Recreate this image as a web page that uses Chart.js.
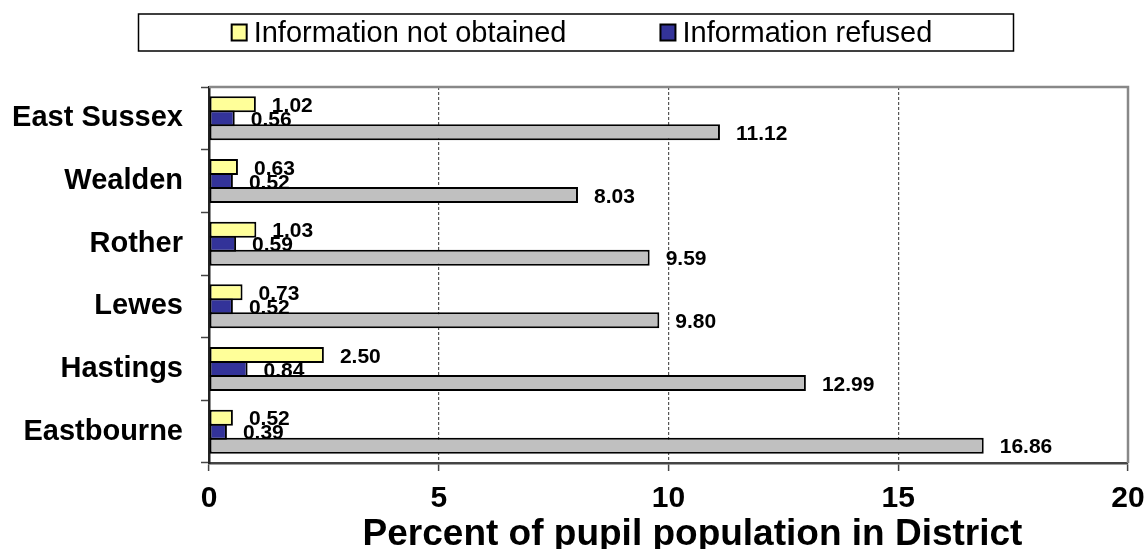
<!DOCTYPE html>
<html><head><meta charset="utf-8">
<script src="https://cdn.jsdelivr.net/npm/chart.js@4.4.1/dist/chart.umd.min.js"></script>
<style>html,body{margin:0;padding:0;background:#fff}#wrap{width:1146px;height:549px}</style>
</head><body><div id="wrap"><canvas id="c" width="1146" height="549"></canvas></div>
<script>
const categories = ['East Sussex','Wealden','Rother','Lewes','Hastings','Eastbourne'];
const notObtained = [1.02,0.63,1.03,0.73,2.50,0.52];
const refused = [0.56,0.52,0.59,0.52,0.84,0.39];
const series3 = [11.12,8.03,9.59,9.80,12.99,16.86];
const xTicks = [0,5,10,15,20];
const legendLabels = ['Information not obtained','Information refused'];
const axisTitle = 'Percent of pupil population in District';

const FONT = "'Liberation Sans', Arial, sans-serif";
const colors = ['#FFFF99','#333399','#C0C0C0'];

const valueLabels = {
  id: 'valueLabels',
  beforeDatasetsDraw(chart) {
    const ctx = chart.ctx;
    ctx.save();
    ctx.font = 'bold 21px ' + FONT;
    ctx.fillStyle = '#000';
    ctx.textAlign = 'left';
    ctx.textBaseline = 'middle';
    chart.data.datasets.forEach((ds, i) => {
      const meta = chart.getDatasetMeta(i);
      meta.data.forEach((bar, j) => {
        ctx.fillText(ds.data[j].toFixed(2), bar.x + 16, bar.y + 2);
      });
    });
    ctx.restore();
  }
};

const frame = {
  id: 'frame',
  afterDatasetsDraw(chart) {
    const a = chart.chartArea, ctx = chart.ctx;
    ctx.save();
    ctx.strokeStyle = '#888';
    ctx.lineWidth = 2.5;
    ctx.beginPath();
    ctx.moveTo(a.left, a.top);
    ctx.lineTo(a.right, a.top);
    ctx.lineTo(a.right, a.bottom);
    ctx.stroke();
    ctx.restore();
  }
};

const xTitle = {
  id: 'xTitle',
  afterDraw(chart) {
    const a = chart.chartArea, ctx = chart.ctx;
    ctx.save();
    ctx.font = 'bold 37px ' + FONT;
    ctx.fillStyle = '#000';
    ctx.textAlign = 'center';
    ctx.textBaseline = 'alphabetic';
    ctx.fillText(axisTitle, (a.left + a.right) / 2 + 24, chart.height - 4);
    ctx.restore();
  }
};

const boxLegend = {
  id: 'boxLegend',
  afterDraw(chart) {
    const ctx = chart.ctx;
    const cx = chart.width / 2;
    const boxW = 875, boxTop = 14, boxH = 37;
    ctx.save();
    ctx.fillStyle = '#fff';
    ctx.strokeStyle = '#000';
    ctx.lineWidth = 1.5;
    ctx.fillRect(cx - boxW / 2 + 3, boxTop, boxW, boxH);
    ctx.strokeRect(cx - boxW / 2 + 3, boxTop, boxW, boxH);
    ctx.font = '29px ' + FONT;
    ctx.textBaseline = 'middle';
    ctx.textAlign = 'left';
    const sq = 15, gap = 7, itemGap = 94;
    const widths = legendLabels.map(t => ctx.measureText(t).width);
    const total = widths.reduce((s, w) => s + sq + gap + w, 0) + itemGap * (legendLabels.length - 1);
    let x = cx + 9 - total / 2;
    const cy = boxTop + boxH / 2;
    legendLabels.forEach((t, i) => {
      ctx.fillStyle = colors[i];
      ctx.fillRect(x, cy - 8, sq, 16);
      ctx.lineWidth = 2;
      ctx.strokeStyle = '#000';
      ctx.strokeRect(x, cy - 8, sq, 16);
      ctx.fillStyle = '#000';
      ctx.fillText(t, x + sq + gap, cy + 1);
      x += sq + gap + widths[i] + itemGap;
    });
    ctx.restore();
  }
};

const datasets = [
  { label: legendLabels[0], data: notObtained, backgroundColor: colors[0] },
  { label: legendLabels[1], data: refused, backgroundColor: colors[1] },
  { label: 'Series 3', data: series3, backgroundColor: colors[2] }
].map(d => Object.assign(d, {
  borderColor: '#000', borderWidth: 2, borderSkipped: false,
  barPercentage: 1.14, categoryPercentage: 0.67
}));

new Chart(document.getElementById('c'), {
  type: 'bar',
  data: { labels: categories, datasets },
  options: {
    indexAxis: 'y',
    responsive: false,
    animation: false,
    layout: { padding: { top: 87, right: 18, left: 0, bottom: 0 } },
    plugins: { legend: { display: false }, tooltip: { enabled: false } },
    scales: {
      x: {
        type: 'linear', min: xTicks[0], max: xTicks[xTicks.length - 1],
        afterBuildTicks(s) { s.ticks = xTicks.map(v => ({ value: v })); },
        afterFit(s) { s.height = 86; s.paddingLeft = 0; s.paddingRight = 0; },
        ticks: { font: { family: FONT, size: 30, weight: 'bold' }, color: '#000', padding: 10, maxRotation: 0 },
        grid: {
          color: c => (c.index === 0 || c.index === xTicks.length - 1) ? 'rgba(0,0,0,0)' : '#555',
          lineWidth: 1.2, drawTicks: true, tickLength: 8, tickColor: '#444', tickWidth: 1.5, tickBorderDash: []
        },
        border: { display: true, color: '#444', width: 2.5, dash: [3, 2] },
        title: { display: false, text: axisTitle }
      },
      y: {
        type: 'category',
        afterFit(s) { s.width = 209; s.paddingTop = 0; s.paddingBottom = 0; },
        ticks: { font: { family: FONT, size: 29, weight: 'bold' }, color: '#000', padding: 18 },
        grid: { offset: true, drawOnChartArea: false, drawTicks: true, tickLength: 8, tickColor: '#444', tickWidth: 1.5 },
        border: { display: true, color: '#222', width: 2.5 }
      }
    }
  },
  plugins: [valueLabels, frame, xTitle, boxLegend]
});
</script></body></html>
